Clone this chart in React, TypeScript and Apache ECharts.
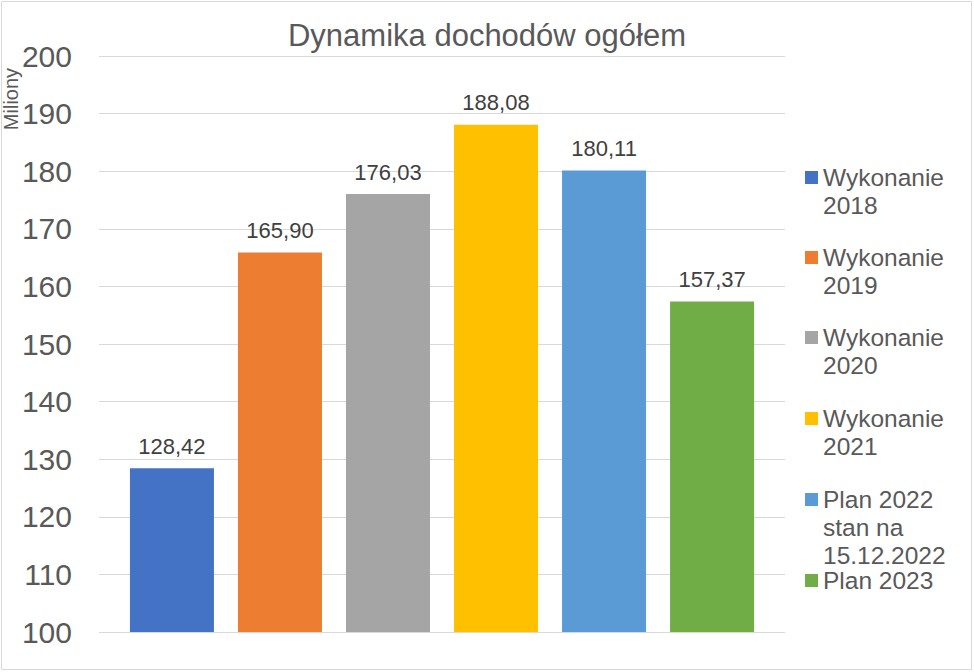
import React, { useEffect, useRef } from "react";
import * as echarts from "echarts";

const categories = [""];
const seriesNames = [
  "Wykonanie 2018",
  "Wykonanie 2019",
  "Wykonanie 2020",
  "Wykonanie 2021",
  "Plan 2022 stan na 15.12.2022",
  "Plan 2023",
];
const legendLabels = [
  "Wykonanie\n2018",
  "Wykonanie\n2019",
  "Wykonanie\n2020",
  "Wykonanie\n2021",
  "Plan 2022\nstan na\n15.12.2022",
  "Plan 2023",
];
const values = [128.42, 165.9, 176.03, 188.08, 180.11, 157.37];
const colors = ["#4472C4", "#ED7D31", "#A5A5A5", "#FFC000", "#5B9BD5", "#70AD47"];
const yTicks = { min: 100, max: 200, interval: 10 };
const title = "Dynamika dochodów ogółem";
const yAxisTitle = "Miliony";

const FONT = "'Liberation Sans', Arial, sans-serif";
const TEXT = "#595959";
const LINE_H = 28;
const legendTops = [163, 243, 323, 404, 485, 566];

export default function App() {
  const ref = useRef<HTMLDivElement>(null);
  useEffect(() => {
    if (!ref.current) return;
    const chart = echarts.init(ref.current, undefined, { renderer: "svg" });
    const legends = seriesNames.map((name, i) => {
      const lines = legendLabels[i].split("\n").length;
      const H = lines * LINE_H;
      return {
        data: [name],
        selectedMode: false,
        orient: "vertical",
        left: 805,
        top: legendTops[i],
        padding: 0,
        itemWidth: 13,
        itemHeight: H,
        icon: `path://M0,0L0.01,0M0,8L13,8L13,21L0,21ZM0,${H}L0.01,${H}`,
        formatter: () => legendLabels[i],
        textStyle: { fontSize: 24.5, lineHeight: LINE_H, color: TEXT, fontFamily: FONT },
      };
    });
    chart.setOption({
      animation: false,
      textStyle: { fontFamily: FONT },
      title: {
        text: title,
        left: "center",
        top: 15,
        textStyle: { fontSize: 31, fontWeight: "normal", color: TEXT, fontFamily: FONT },
      },
      legend: legends,
      grid: { left: 99, right: 189, top: 56, bottom: 40, containLabel: false },
      xAxis: {
        type: "category",
        data: categories,
        axisLine: { show: false },
        axisTick: { show: false },
        axisLabel: { show: false },
      },
      yAxis: {
        type: "value",
        min: yTicks.min,
        max: yTicks.max,
        interval: yTicks.interval,
        axisLine: { show: false },
        axisTick: { show: false },
        axisLabel: { fontSize: 30, color: TEXT, margin: 27, fontFamily: FONT },
        splitLine: { lineStyle: { color: "#D9D9D9", width: 1 } },
      },
      graphic: [
        {
          type: "rect",
          shape: { x: 1.5, y: 1.5, width: 970, height: 668 },
          style: { fill: "none", stroke: "#D9D9D9", lineWidth: 1 },
          silent: true,
        },
        {
          type: "text",
          x: 10.5,
          y: 99,
          rotation: Math.PI / 2,
          style: {
            text: yAxisTitle,
            fontSize: 20,
            fill: TEXT,
            align: "center",
            verticalAlign: "middle",
            fontFamily: FONT,
          },
          silent: true,
        },
      ],
      series: seriesNames.map((name, i) => ({
        type: "bar",
        name,
        data: [values[i]],
        barWidth: 84,
        barGap: "28.6%",
        itemStyle: { color: colors[i] },
        label: {
          show: true,
          position: "top",
          distance: 11,
          fontSize: 22,
          color: "#404040",
          fontFamily: FONT,
          formatter: (p: any) => p.value.toFixed(2).replace(".", ","),
        },
      })),
    });
    return () => chart.dispose();
  }, []);
  return (
    <div
      ref={ref}
      style={{ position: "fixed", left: 0, top: 0, width: 974, height: 672, background: "#fff" }}
    />
  );
}
